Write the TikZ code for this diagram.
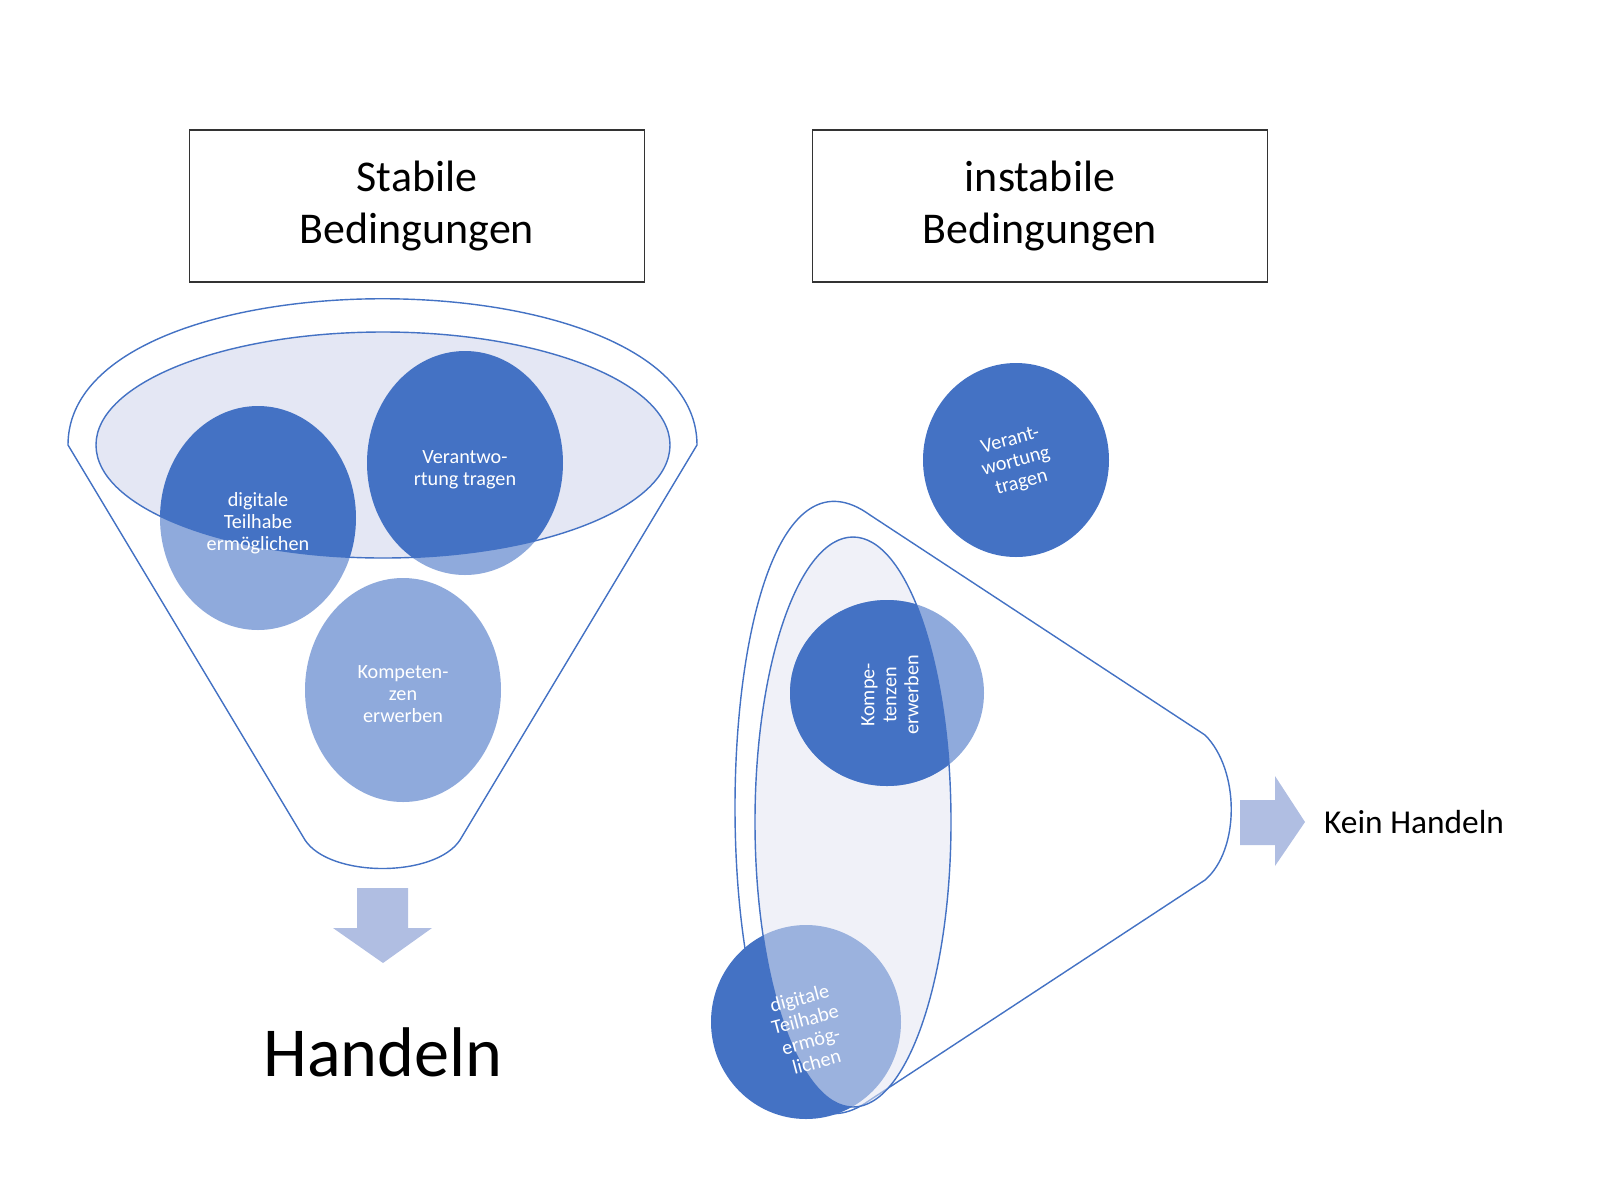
\documentclass[tikz,border=0pt]{standalone}
\usepackage{fontspec}
\setmainfont{Carlito}
\definecolor{dunkel}{HTML}{4472C4}
\definecolor{hell}{HTML}{8FAADC}
\definecolor{flaeche}{HTML}{E4E7F4}
\definecolor{pfeil}{HTML}{B0BEE2}
\begin{document}
\begin{tikzpicture}[x=0.02cm,y=0.02cm,
    kasten/.style={draw=black!80,line width=1pt,minimum width=9.1cm,minimum height=3.04cm,align=center,font=\fontsize{25}{30}\selectfont},
    rand/.style={draw=dunkel,line width=0.8pt},
    kreistext/.style={text=white,align=center,font=\fontsize{11.5}{12.5}\selectfont}]
  \useasboundingbox (0,0) rectangle (1600,-1198);
  % Kaesten
  \node[kasten] (stabil) at (417,-206) {Stabile\\Bedingungen};
  \node[kasten] (instabil) at (1040,-206) {instabile\\Bedingungen};
  % linker Trichter
  \draw[rand,fill=white] (68,-445) .. controls (68,-250) and (697,-250) .. (697,-445)
    -- (460,-840) .. controls (435,-878) and (330,-878) .. (305,-840) -- cycle;
  \fill[hell] (258,-518) ellipse [x radius=98,y radius=112];
  \fill[hell] (465,-463) ellipse [x radius=98,y radius=112];
  \begin{scope}
    \clip (383,-445) ellipse [x radius=287,y radius=113];
    \fill[flaeche] (383,-445) ellipse [x radius=287,y radius=113];
    \fill[dunkel] (258,-518) ellipse [x radius=98,y radius=112];
    \fill[dunkel] (465,-463) ellipse [x radius=98,y radius=112];
  \end{scope}
  \draw[rand] (383,-445) ellipse [x radius=287,y radius=113];
  \fill[hell] (403,-690) ellipse [x radius=98,y radius=112];
  \node[kreistext] (teilhabeL) at (258,-523) {digitale\\Teilhabe\\ermöglichen};
  \node[kreistext] (verantL) at (465,-470) {Verantwo-\\rtung tragen};
  \node[kreistext] (kompL) at (403,-694) {Kompeten-\\zen\\erwerben};
  \fill[pfeil] (357,-888) -- (408,-888) -- (408,-928) -- (432,-928) -- (383,-963)
    -- (333,-928) -- (357,-928) -- cycle;
  \node[font=\fontsize{40}{46}\selectfont] (handeln) at (383,-1052) {Handeln};
  % rechter Trichter
  \fill[dunkel] (1016,-460) ellipse [x radius=93,y radius=97];
  \node[kreistext,rotate=15] (verantR) at (1016,-462) {Verant-\\wortung\\tragen};
  \draw[rand,fill=white] (870,-515) -- (1205,-735) .. controls (1240,-770) and (1240,-850) .. (1205,-880)
    -- (870,-1100) .. controls (690,-1230) and (690,-385) .. (870,-515) -- cycle;
  \fill[dunkel] (806,-1022) ellipse [x radius=95,y radius=97];
  \fill[flaeche,fill opacity=0.55] (853,-822) ellipse [x radius=98,y radius=285];
  \fill[hell] (887,-693) ellipse [x radius=97,y radius=93];
  \begin{scope}
    \clip (853,-822) ellipse [x radius=98,y radius=285];
    \fill[dunkel] (887,-693) ellipse [x radius=97,y radius=93];
  \end{scope}
  \draw[rand] (853,-822) ellipse [x radius=98,y radius=285];
  \node[kreistext,rotate=90] (kompR) at (890,-695) {Kompe-\\tenzen\\erwerben};
  \node[kreistext,rotate=15] (teilhabeR) at (808,-1030) {digitale\\Teilhabe\\ermög-\\lichen};
  \fill[pfeil] (1240,-800) -- (1275,-800) -- (1275,-776) -- (1305,-822) -- (1275,-866)
    -- (1275,-845) -- (1240,-845) -- cycle;
  \node[anchor=west,font=\fontsize{19}{22}\selectfont] (keinhandeln) at (1318,-822) {Kein Handeln};
\end{tikzpicture}
\end{document}
